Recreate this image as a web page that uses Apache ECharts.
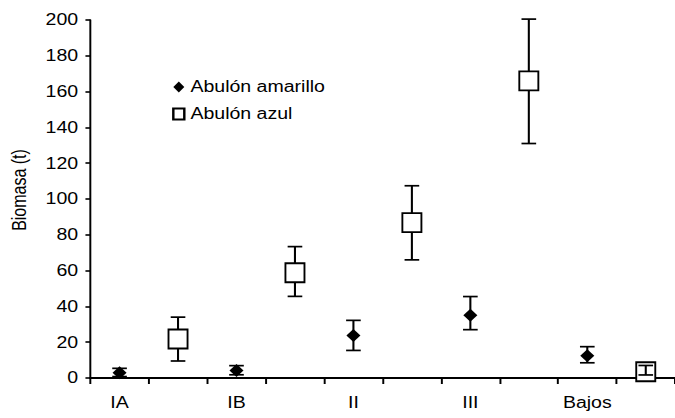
<!DOCTYPE html>
<html>
<head>
<meta charset="utf-8">
<script src="https://cdn.jsdelivr.net/npm/echarts@6/dist/echarts.min.js"></script>
<style>
html,body{margin:0;padding:0;background:#fff;overflow:hidden;}
#chart{width:553px;height:418px;transform:scaleX(1.2206);transform-origin:0 0;}
</style>
</head>
<body>
<div id="chart"></div>
<script>
// Data
const groups = ['IA', 'IB', 'II', 'III', 'Bajos'];
const amarillo = [3.0, 4.2, 23.8, 35.0, 12.5];
const amarilloLow = [0.8, 1.8, 15.4, 27.0, 8.5];
const amarilloHigh = [5.4, 6.9, 32.2, 45.5, 17.5];
const azul = [21.8, 58.8, 86.8, 166.0, 3.5];
const azulLow = [9.5, 45.6, 66.0, 131.0, 1.7];
const azulHigh = [34.0, 73.4, 107.4, 200.5, 7.0];
const yTicks = { min: 0, max: 200, interval: 20 };

const FONT = "'Liberation Sans', Arial, sans-serif";
const slots = groups.flatMap(g => [g, g + ' azul']);

const chart = echarts.init(document.getElementById('chart'), null, { renderer: 'svg' });

function errSeries(name, vals, lows, highs, offset, gap) {
  return {
    type: 'custom',
    name: name + ' err',
    z: 5,
    silent: true,
    data: vals.map((v, i) => [2 * i + offset, v, lows[i], highs[i]]),
    renderItem: function (params, api) {
      const x = api.value(0);
      const c = api.coord([x, api.value(1)]);
      const lo = api.coord([x, api.value(2)]);
      const hi = api.coord([x, api.value(3)]);
      const hw = 6;
      const style = { stroke: '#000', lineWidth: 1.7 };
      const children = [
        { type: 'line', shape: { x1: lo[0] - hw, y1: lo[1], x2: lo[0] + hw, y2: lo[1] }, style },
        { type: 'line', shape: { x1: hi[0] - hw, y1: hi[1], x2: hi[0] + hw, y2: hi[1] }, style }
      ];
      const inside = (c[1] - gap <= hi[1]) && (c[1] + gap >= lo[1]);
      if (inside) {
        children.push({ type: 'line', shape: { x1: c[0], y1: hi[1], x2: c[0], y2: lo[1] }, style });
      } else {
        if (c[1] - gap > hi[1]) children.push({ type: 'line', shape: { x1: c[0], y1: hi[1], x2: c[0], y2: c[1] - gap }, style });
        if (c[1] + gap < lo[1]) children.push({ type: 'line', shape: { x1: c[0], y1: c[1] + gap, x2: c[0], y2: lo[1] }, style });
      }
      return { type: 'group', children };
    }
  };
}

chart.setOption({
  animation: false,
  backgroundColor: '#fff',
  textStyle: { fontFamily: FONT, color: '#000' },
  grid: { left: 73, right: 0, top: 20, bottom: 40, containLabel: false },
  legend: {
    orient: 'vertical',
    left: 136,
    top: 74,
    itemWidth: 9,
    itemHeight: 11,
    itemGap: 11,
    textStyle: { fontFamily: FONT, fontSize: 16, color: '#000' },
    data: ['Abulón amarillo', 'Abulón azul']
  },
  xAxis: {
    type: 'category',
    data: slots,
    boundaryGap: true,
    axisLine: { lineStyle: { color: '#000', width: 2 } },
    axisTick: { show: true, interval: 0, length: 6, lineStyle: { color: '#000', width: 1.6 } },
    axisLabel: {
      interval: 0,
      margin: 17,
      fontSize: 16,
      fontFamily: FONT,
      color: '#000',
      formatter: (v, i) => (i % 2 === 0 ? v : '')
    },
    splitLine: { show: false }
  },
  yAxis: {
    type: 'value',
    min: yTicks.min,
    max: yTicks.max,
    interval: yTicks.interval,
    name: 'Biomasa (t)',
    nameLocation: 'middle',
    nameGap: 50,
    nameTextStyle: { fontSize: 16, fontFamily: FONT, color: '#000', padding: [0, 0, 0, 18] },
    axisLine: { show: true, lineStyle: { color: '#000', width: 1.6 } },
    axisTick: { show: true, length: 4, lineStyle: { color: '#000', width: 1.6 } },
    axisLabel: { margin: 10, fontSize: 16, fontFamily: FONT, color: '#000' },
    splitLine: { show: false }
  },
  series: [
    {
      name: 'Abulón amarillo',
      type: 'scatter',
      symbol: 'diamond',
      symbolSize: [11.5, 13],
      z: 3,
      itemStyle: { color: '#000', opacity: 1 },
      data: amarillo.map((v, i) => [2 * i, v])
    },
    {
      name: 'Abulón azul',
      type: 'scatter',
      symbol: 'rect',
      symbolSize: [15.6, 19],
      z: 3,
      itemStyle: { color: '#fff', borderColor: '#000', borderWidth: 1.7, opacity: 1 },
      data: azul.map((v, i) => [2 * i + 1, v])
    },
    errSeries('amarillo', amarillo, amarilloLow, amarilloHigh, 0, 0),
    errSeries('azul', azul, azulLow, azulHigh, 1, 9.5)
  ]
});
</script>
</body>
</html>
